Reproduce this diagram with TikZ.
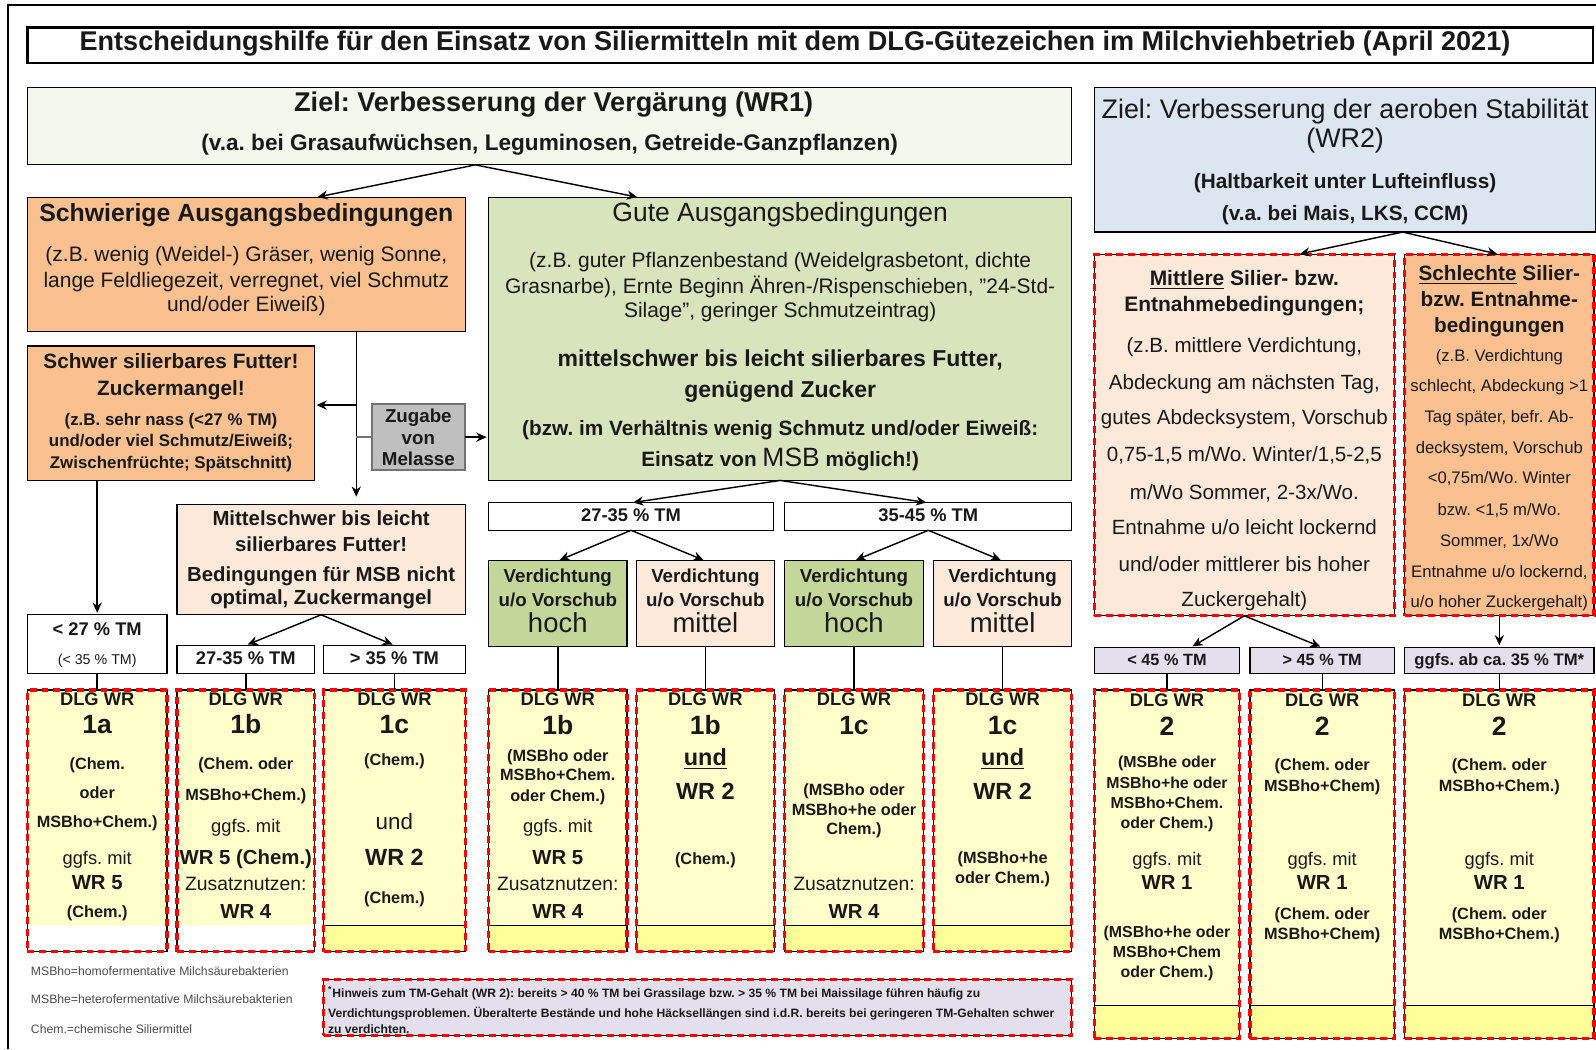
\documentclass[tikz,border=0pt]{standalone}
\usepackage{fontspec}
\setmainfont{Liberation Sans}
\usetikzlibrary{arrows.meta,calc}
\frenchspacing

\definecolor{zielgruen}{HTML}{F4F7EC}
\definecolor{orangeF}{HTML}{FAC090}
\definecolor{gutgruen}{HTML}{D8E4BC}
\definecolor{hochgruen}{HTML}{C4D79B}
\definecolor{pfirsich}{HTML}{FDE9D9}
\definecolor{zielblau}{HTML}{DCE6F1}
\definecolor{lavendel}{HTML}{E4DFEC}
\definecolor{hellgelb}{HTML}{FFFFCC}
\definecolor{gelb}{HTML}{FFFF99}
\definecolor{melgrau}{HTML}{BFBFBF}

\newcommand\setfs[1]{\fontsize{#1}{#1}\selectfont}
\newcommand\tDlg{\bfseries\setfs{9}}
\newcommand\tNum{\bfseries\setfs{13}}
\newcommand\tSm{\bfseries\setfs{8}}
\newcommand\tSr{\bfseries\setfs{7.8}}
\newcommand\tReg{\setfs{9}}
\newcommand\tWr{\bfseries\setfs{10}}
\newcommand\tZus{\setfs{9.5}}
\newcommand\tBig{\bfseries\setfs{11.5}}
\newcommand\tUnd{\setfs{11}}

\tikzset{
  box/.style={draw=black, line width=0.6pt, inner sep=0pt, outer sep=0pt},
  redbox/.style={box, postaction={draw=red, line width=1.6pt, dash pattern=on 3.4pt off 2.4pt}},
  txt/.style={anchor=mid, inner sep=0pt, text=black!90},
  arr/.style={-{Stealth[length=5pt,width=4.5pt]}, line width=0.7pt, shorten >=1pt},
  lnk/.style={line width=0.7pt},
  stripY/.style={path picture={
    \fill[gelb] (path picture bounding box.south west) rectangle ([yshift=#1]path picture bounding box.south east);
    \draw[line width=0.6pt] ([yshift=#1]path picture bounding box.south west) -- ([yshift=#1]path picture bounding box.south east);}},
  stripW/.style={path picture={
    \fill[white] (path picture bounding box.south west) rectangle ([yshift=#1]path picture bounding box.south east);}},
}

\begin{document}
\begin{tikzpicture}[x=0.5pt, y=-0.5pt]
\useasboundingbox (0,0) rectangle (1568,1031);
\fill[white] (0,0) rectangle (1568,1031);

% Rahmen und Titel
\draw[line width=0.8pt] (8,1031) -- (8,5) -- (1568,5);
\node[box, line width=1.3pt, minimum width=769pt, minimum height=17.5pt] (titel) at (796,44.5) {};
\node[txt, font=\bfseries\setfs{13.3}] (titeltext) at (781,44.5) {Entscheidungshilfe für den Einsatz von Siliermitteln mit dem DLG-Gütezeichen im Milchviehbetrieb (April 2021)};

% Ziel WR1
\node[box, fill=zielgruen, minimum width=513pt, minimum height=38pt] (ziel1) at (540,124) {};
\node[txt, font=\bfseries\setfs{13.3}] (ziel1a) at (544,104) {Ziel: Verbesserung der Vergärung (WR1)};
\node[txt, font=\bfseries\setfs{11.1}] (ziel1b) at (540,143) {(v.a. bei Grasaufwüchsen, Leguminosen, Getreide-Ganzpflanzen)};

% Schwierige Ausgangsbedingungen
\node[box, fill=orangeF, minimum width=215pt, minimum height=66pt] (schwierig) at (242,260) {};
\node[txt, font=\bfseries\setfs{12.2}] (schwierig0) at (242,212) {Schwierige Ausgangsbedingungen};
\foreach \y/\t [count=\i] in {252/{(z.B. wenig (Weidel-) Gräser, wenig Sonne,}, 277/{lange Feldliegezeit, verregnet, viel Schmutz}, 301/{und/oder Eiweiß)}}
  \node[txt, font=\setfs{10.3}] (schwierig\i) at (242,\y) {\t};

% Gute Ausgangsbedingungen
\node[box, fill=gutgruen, minimum width=286.5pt, minimum height=139pt] (gut) at (766.5,333) {};
\node[txt, font=\setfs{13}] (gut0) at (766.5,212) {Gute Ausgangsbedingungen};
\foreach \y/\t [count=\i] in {258/{(z.B. guter Pflanzenbestand (Weidelgrasbetont, dichte}, 283/{Grasnarbe), Ernte Beginn Ähren-/Rispenschieben, "24-Std-}, 307/{Silage", geringer Schmutzeintrag)}}
  \node[txt, font=\setfs{10.3}] (gut\i) at (766.5,\y) {\t};
\node[txt, font=\bfseries\setfs{11.3}] (gut4) at (766.5,355) {mittelschwer bis leicht silierbares Futter,};
\node[txt, font=\bfseries\setfs{11.3}] (gut5) at (766.5,385) {genügend Zucker};
\node[txt, font=\bfseries\setfs{10.2}] (gut6) at (766.5,423) {(bzw. im Verhältnis wenig Schmutz und/oder Eiweiß:};
\node[txt] (gut7) at (766.5,453) {{\bfseries\setfs{10.2}Einsatz von }{\setfs{13}MSB}{\bfseries\setfs{10.2} möglich!)}};

% Schwer silierbar
\node[box, fill=orangeF, minimum width=141pt, minimum height=66pt] (schwer) at (168,406) {};
\foreach \y/\fn/\t [count=\i] in {357/\bfseries\setfs{10.2}/{Schwer silierbares Futter!}, 383/\bfseries\setfs{10.2}/{Zuckermangel!}, 413/\bfseries\setfs{8.3}/{(z.B. sehr nass (<27 \% TM)}, 433/\bfseries\setfs{8.3}/{und/oder viel Schmutz/Eiweiß;}, 455/\bfseries\setfs{8.3}/{Zwischenfrüchte; Spätschnitt)}}
  \node[txt, font=\fn] (schwer\i) at (168,\y) {\t};

% Melasse
\node[box, draw=black!55, line width=1pt, fill=melgrau, minimum width=46pt, minimum height=32.5pt] (melasse) at (411,429.5) {};
\foreach \y/\t [count=\i] in {410/Zugabe, 431/von, 452/Melasse}
  \node[txt, font=\bfseries\setfs{9.2}] (melasse\i) at (411,\y) {\t};

% Mittelschwer
\node[box, fill=pfirsich, minimum width=141.5pt, minimum height=54pt] (mittel) at (315.5,550) {};
\foreach \y/\t [count=\i] in {511/{Mittelschwer bis leicht}, 537/{silierbares Futter!}, 566/{Bedingungen für MSB nicht}, 589/{optimal, Zuckermangel}}
  \node[txt, font=\bfseries\setfs{10}] (mittel\i) at (315.5,\y) {\t};

% TM links
\node[box, minimum width=68.5pt, minimum height=29pt] (tmA) at (95.5,633) {};
\node[txt, font=\bfseries\setfs{9}] (tmA1) at (95.5,619) {< 27 \% TM};
\node[txt, font=\setfs{7}] (tmA2) at (95.5,648) {(< 35 \% TM)};
\node[box, minimum width=67.5pt, minimum height=14pt] (tmB) at (241.5,648) {};
\node[txt, font=\bfseries\setfs{9}] (tmB1) at (241.5,648) {27-35 \% TM};
\node[box, minimum width=69.5pt, minimum height=14pt] (tmC) at (387.5,648) {};
\node[txt, font=\bfseries\setfs{9}] (tmC1) at (387.5,648) {> 35 \% TM};

% DLG links
\node[redbox, fill=hellgelb, stripW=13pt, minimum width=68.5pt, minimum height=128.5pt] (d1a) at (95.5,806.5) {};
\node[redbox, fill=hellgelb, stripW=13pt, minimum width=67.5pt, minimum height=128.5pt] (d1b) at (241.5,806.5) {};
\node[redbox, fill=hellgelb, stripY=13pt, minimum width=69.5pt, minimum height=128.5pt] (d1c) at (387.5,806.5) {};
\foreach \y/\fn/\t [count=\i] in {688/\tDlg/{DLG WR}, 715/\tNum/{1a}, 751/\tSm/{(Chem.}, 779/\tSm/{oder}, 808/\tSm/{MSBho+Chem.)}, 844/\tReg/{ggfs. mit}, 869/\tWr/{WR 5}, 896/\tSm/{(Chem.)}}
  \node[txt, font=\fn] (d1a-\i) at (95.5,\y) {\t};
\foreach \y/\fn/\t [count=\i] in {688/\tDlg/{DLG WR}, 715/\tNum/{1b}, 751/\tSm/{(Chem. oder}, 781/\tSm/{MSBho+Chem.)}, 813/\tReg/{ggfs. mit}, 844/\tWr/{WR 5 (Chem.)}, 870/\tZus/{Zusatznutzen:}, 897/\tWr/{WR 4}}
  \node[txt, font=\fn] (d1b-\i) at (241.5,\y) {\t};
\foreach \y/\fn/\t [count=\i] in {688/\tDlg/{DLG WR}, 715/\tNum/{1c}, 747/\tSm/{(Chem.)}, 810/\tUnd/{und}, 845/\tBig/{WR 2}, 882/\tSm/{(Chem.)}}
  \node[txt, font=\fn] (d1c-\i) at (387.5,\y) {\t};

% TM Mitte
\node[box, minimum width=140pt, minimum height=13.5pt] (tmD) at (620,507.5) {};
\node[txt, font=\bfseries\setfs{9}] (tmD1) at (620,507.5) {27-35 \% TM};
\node[box, minimum width=141pt, minimum height=13.5pt] (tmE) at (912,507.5) {};
\node[txt, font=\bfseries\setfs{9}] (tmE1) at (912,507.5) {35-45 \% TM};

% Verdichtung
\foreach \n/\x/\c/\w in {v1/548/hochgruen/hoch, v2/693/pfirsich/mittel, v3/839/hochgruen/hoch, v4/985/pfirsich/mittel} {
  \node[box, fill=\c, minimum width=68pt, minimum height=42pt] (\n) at (\x,593) {};
  \node[txt, font=\bfseries\setfs{9.2}] (\n-1) at (\x,567) {Verdichtung};
  \node[txt, font=\bfseries\setfs{9.2}] (\n-2) at (\x,591) {u/o Vorschub};
  \node[txt, font=\setfs{13.5}] (\n-3) at (\x,616) {\w};
}

% DLG Mitte
\foreach \n/\x in {d2a/548, d2b/693, d2c/839, d2d/985}
  \node[redbox, fill=hellgelb, stripY=13pt, minimum width=68pt, minimum height=128.5pt] (\n) at (\x,806.5) {};
\foreach \y/\fn/\t [count=\i] in {688/\tDlg/{DLG WR}, 716/\tNum/{1b}, 743/\tSm/{(MSBho oder}, 762/\tSm/{MSBho+Chem.}, 782/\tSm/{oder Chem.)}, 813/\tReg/{ggfs. mit}, 844/\tWr/{WR 5}, 870/\tZus/{Zusatznutzen:}, 897/\tWr/{WR 4}}
  \node[txt, font=\fn] (d2a-\i) at (548,\y) {\t};
\foreach \y/\fn/\t [count=\i] in {688/\tDlg/{DLG WR}, 716/\tNum/{1b}, 747/\tBig/{\underline{und}}, 780/\tBig/{WR 2}, 844/\tSm/{(Chem.)}}
  \node[txt, font=\fn] (d2b-\i) at (693,\y) {\t};
\foreach \y/\fn/\t [count=\i] in {688/\tDlg/{DLG WR}, 716/\tNum/{1c}, 776/\tSm/{(MSBho oder}, 796/\tSm/{MSBho+he oder}, 815/\tSm/{Chem.)}, 870/\tZus/{Zusatznutzen:}, 897/\tWr/{WR 4}}
  \node[txt, font=\fn] (d2c-\i) at (839,\y) {\t};
\foreach \y/\fn/\t [count=\i] in {688/\tDlg/{DLG WR}, 716/\tNum/{1c}, 747/\tBig/{\underline{und}}, 780/\tBig/{WR 2}, 843/\tSm/{(MSBho+he}, 863/\tSm/{oder Chem.)}}
  \node[txt, font=\fn] (d2d-\i) at (985,\y) {\t};

% Ziel WR2
\node[box, fill=zielblau, minimum width=246.5pt, minimum height=71pt] (ziel2) at (1321.5,157) {};
\node[txt, font=\setfs{13.2}] (ziel2a) at (1321.5,111) {Ziel: Verbesserung der aeroben Stabilität};
\node[txt, font=\setfs{13.2}] (ziel2b) at (1321.5,140) {(WR2)};
\node[txt, font=\bfseries\setfs{10.2}] (ziel2c) at (1321.5,180) {(Haltbarkeit unter Lufteinfluss)};
\node[txt, font=\bfseries\setfs{10.2}] (ziel2d) at (1321.5,211) {(v.a. bei Mais, LKS, CCM)};

% Mittlere / Schlechte Bedingungen
\node[redbox, fill=pfirsich, minimum width=147.5pt, minimum height=177.5pt] (mittlere) at (1222.5,427.5) {};
\node[txt, font=\bfseries\setfs{10.3}] (mittlere0) at (1222.5,275) {\underline{Mittlere} Silier- bzw.};
\node[txt, font=\bfseries\setfs{10.3}] (mittlere1) at (1222.5,301) {Entnahmebedingungen;};
\foreach \y/\t [count=\i from 2] in {341/{(z.B. mittlere Verdichtung,}, 377/{Abdeckung am nächsten Tag,}, 412/{gutes Abdecksystem, Vorschub}, 448/{0,75-1,5 m/Wo. Winter/1,5-2,5}, 485/{m/Wo Sommer, 2-3x/Wo.}, 520/{Entnahme u/o leicht lockernd}, 556/{und/oder mittlerer bis hoher}, 591/{Zuckergehalt)}}
  \node[txt, font=\setfs{10.1}] (mittlere\i) at (1222.5,\y) {\t};

\node[redbox, fill=orangeF, minimum width=93pt, minimum height=177.5pt] (schlecht) at (1473,427.5) {};
\foreach \y/\t [count=\i] in {270/{\underline{Schlechte} Silier-}, 296/{bzw. Entnahme-}, 321/{bedingungen}}
  \node[txt, font=\bfseries\setfs{10.2}] (schlecht\i) at (1473,\y) {\t};
\foreach \y/\t [count=\i from 4] in {350/{(z.B. Verdichtung}, 379/{schlecht, Abdeckung >1}, 410/{Tag später, befr. Ab-}, 440/{decksystem, Vorschub}, 470/{<0,75m/Wo. Winter}, 501/{bzw. <1,5 m/Wo.}, 532/{Sommer, 1x/Wo}, 562/{Entnahme u/o lockernd,}, 592/{u/o hoher Zuckergehalt)}}
  \node[txt, font=\setfs{8.2}] (schlecht\i) at (1473,\y) {\t};

% TM rechts
\node[box, fill=lavendel, minimum width=71.5pt, minimum height=13pt] (tmF) at (1146.5,649) {};
\node[txt, font=\bfseries\setfs{8}] (tmF1) at (1146.5,649) {< 45 \% TM};
\node[box, fill=lavendel, minimum width=71pt, minimum height=13pt] (tmG) at (1299,649) {};
\node[txt, font=\bfseries\setfs{8}] (tmG1) at (1299,649) {> 45 \% TM};
\node[box, fill=lavendel, minimum width=93pt, minimum height=13pt] (tmH) at (1473,649) {};
\node[txt, font=\bfseries\setfs{8.2}] (tmH1) at (1473,649) {ggfs. ab ca. 35 \% TM*};

% DLG rechts
\node[redbox, fill=hellgelb, stripY=16pt, minimum width=71.5pt, minimum height=171pt] (r1) at (1146.5,849) {};
\node[redbox, fill=hellgelb, stripY=16pt, minimum width=71pt, minimum height=171pt] (r2) at (1299,849) {};
\node[redbox, fill=hellgelb, stripY=16pt, minimum width=93pt, minimum height=171pt] (r3) at (1473,849) {};
\foreach \y/\fn/\t [count=\i] in {689/\tDlg/{DLG WR}, 717/\tNum/{2}, 749/\tSr/{(MSBhe oder}, 769/\tSr/{MSBho+he oder}, 789/\tSr/{MSBho+Chem.}, 809/\tSr/{oder Chem.)}, 845/\tReg/{ggfs. mit}, 869/\tWr/{WR 1}, 916/\tSr/{(MSBho+he oder}, 935/\tSr/{MSBho+Chem}, 955/\tSr/{oder Chem.)}}
  \node[txt, font=\fn] (r1-\i) at (1146.5,\y) {\t};
\foreach \y/\fn/\t [count=\i] in {689/\tDlg/{DLG WR}, 717/\tNum/{2}, 752/\tSm/{(Chem. oder}, 772/\tSm/{MSBho+Chem)}, 845/\tReg/{ggfs. mit}, 869/\tWr/{WR 1}, 898/\tSm/{(Chem. oder}, 918/\tSm/{MSBho+Chem)}}
  \node[txt, font=\fn] (r2-\i) at (1299,\y) {\t};
\foreach \y/\fn/\t [count=\i] in {689/\tDlg/{DLG WR}, 717/\tNum/{2}, 752/\tSm/{(Chem. oder}, 772/\tSm/{MSBho+Chem.)}, 845/\tReg/{ggfs. mit}, 869/\tWr/{WR 1}, 898/\tSm/{(Chem. oder}, 918/\tSm/{MSBho+Chem.)}}
  \node[txt, font=\fn] (r3-\i) at (1473,\y) {\t};

% Legende und Hinweis
\foreach \y/\t [count=\i] in {953/{MSBho=homofermentative Milchsäurebakterien}, 981/{MSBhe=heterofermentative Milchsäurebakterien}, 1010/{Chem.=chemische Siliermittel}}
  \node[txt, anchor=mid west, font=\setfs{6}, text=black!70] (legende\i) at (30,\y) {\t};
\node[redbox, fill=lavendel, minimum width=367.5pt, minimum height=27.5pt] (hinweis) at (685.5,989.5) {};
\foreach \y/\t [count=\i] in {975/{\textsuperscript{*}Hinweis zum TM-Gehalt (WR 2): bereits > 40 \% TM bei Grassilage bzw. > 35 \% TM bei Maissilage führen häufig zu}, 994/{Verdichtungsproblemen. Überalterte Bestände und hohe Häcksellängen sind i.d.R. bereits bei geringeren TM-Gehalten schwer}, 1010/{zu verdichten.}}
  \node[txt, anchor=mid west, font=\bfseries\setfs{5.95}] (hinweis\i) at (322,\y) {\t};

% Pfeile WR1
\draw[arr] ($(ziel1.south)+(-73,0)$) -- ($(schwierig.north)+(68,0)$);
\draw[arr] ($(ziel1.south)+(-73,0)$) -- ($(gut.north)+(-138.5,0)$);
\coordinate (stamm) at ($(schwierig.south)+(108,0)$);
\draw[arr] (stamm) -- ($(mittel.north)+(34.5,-6)$);
\draw[arr] ($(schwer.east)+(41,-8)$) -- ($(schwer.east)+(0,-8)$);
\draw[lnk, draw=black!55, line width=1pt] (melasse.west) -- (melasse.west -| stamm);
\draw[arr] (melasse.east) -- (melasse.east -| gut.west);
\draw[arr] (schwer.south -| tmA.north) -- (tmA.north);
\draw[arr] (mittel.south) -- (tmB.north);
\draw[arr] (mittel.south) -- (tmC.north);
\foreach \a/\b in {tmA/d1a, tmB/d1b, tmC/d1c}
  \draw[lnk] (\a.south) -- (\b.north);

\draw[arr] (gut.south) -- (tmD.north);
\draw[arr] (gut.south) -- (tmE.north);
\draw[arr] (tmD.south) -- (v1.north);
\draw[arr] (tmD.south) -- (v2.north);
\draw[arr] (tmE.south) -- (v3.north);
\draw[arr] (tmE.south) -- (v4.north);
\foreach \a/\b in {v1/d2a, v2/d2b, v3/d2c, v4/d2d}
  \draw[lnk] (\a.south) -- (\b.north);

% Pfeile WR2
\draw[arr] ($(ziel2.south)+(56.5,0)$) -- ($(mittlere.north)+(52.5,0)$);
\draw[arr] ($(ziel2.south)+(56.5,0)$) -- (schlecht.north);
\draw[arr] (mittlere.south) -- ($(tmF.north)+(23.5,0)$);
\draw[arr] (mittlere.south) -- (tmG.north);
\draw[arr] (schlecht.south) -- (tmH.north);
\foreach \a/\b in {tmF/r1, tmG/r2, tmH/r3}
  \draw[lnk] (\a.south) -- (\b.north);
\end{tikzpicture}
\end{document}
